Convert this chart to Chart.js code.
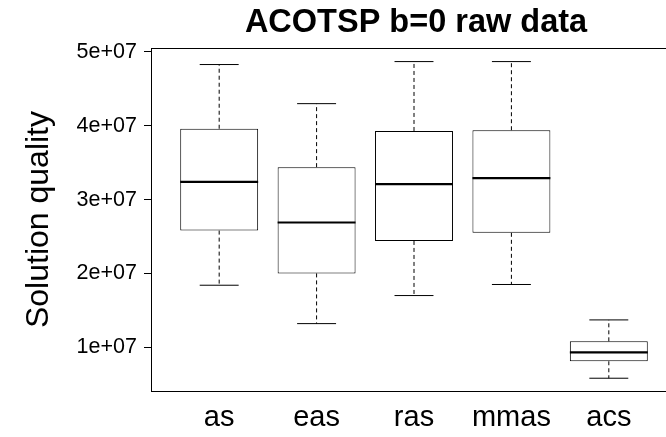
<!DOCTYPE html>
<html>
<head>
<meta charset="utf-8">
<style>
  html, body { margin: 0; padding: 0; background: #fff; overflow: hidden; }
  #wrap { width: 666px; height: 437px; overflow: hidden; position: relative; }
  #box { width: 700px; height: 437px; position: absolute; left: 0; top: 0; }
</style>
<script src="https://cdn.jsdelivr.net/npm/chart.js@4.4.1/dist/chart.umd.min.js"></script>
</head>
<body>
<div id="wrap"><div id="box"><canvas id="c" width="700" height="437"></canvas></div></div>
<script>
// ---- data ----
const categories = ['as', 'eas', 'ras', 'mmas', 'acs'];
const whiskerLow  = [1.84e7, 1.32e7, 1.70e7, 1.85e7, 0.58e7];
const q1          = [2.58e7, 2.00e7, 2.44e7, 2.55e7, 0.81e7];
const median      = [3.24e7, 2.69e7, 3.21e7, 3.29e7, 0.93e7];
const q3          = [3.96e7, 3.44e7, 3.93e7, 3.94e7, 1.08e7];
const whiskerHigh = [4.83e7, 4.30e7, 4.87e7, 4.87e7, 1.37e7];
const yTicks = [1e7, 2e7, 3e7, 4e7, 5e7];
const yTickLabels = ['1e+07', '2e+07', '3e+07', '4e+07', '5e+07'];
const titleText = 'ACOTSP b=0 raw data';
const yTitle = 'Solution quality';

// ---- build library data ----
const pos = categories.map((_, i) => i + 1);
const boxData = pos.map((x, i) => ({ x: x, y: [q1[i], q3[i]] }));
const stemData = [];
const capData = [];
const medData = [];
pos.forEach((x, i) => {
  stemData.push({ x: x, y: q3[i] }, { x: x, y: whiskerHigh[i] }, { x: x, y: null });
  stemData.push({ x: x, y: q1[i] }, { x: x, y: whiskerLow[i] }, { x: x, y: null });
  capData.push({ x: x - 0.2, y: whiskerHigh[i] }, { x: x + 0.2, y: whiskerHigh[i] }, { x: x, y: null });
  capData.push({ x: x - 0.2, y: whiskerLow[i] }, { x: x + 0.2, y: whiskerLow[i] }, { x: x, y: null });
  medData.push({ x: x - 0.4, y: median[i] }, { x: x + 0.4, y: median[i] }, { x: x, y: null });
});

const FONT = '"Liberation Sans", Arial, Helvetica, sans-serif';

const framePlugin = {
  id: 'frame',
  afterDraw(chart) {
    const a = chart.chartArea, ctx = chart.ctx;
    ctx.save();
    ctx.strokeStyle = '#000';
    ctx.lineWidth = 1;
    ctx.strokeRect(Math.round(a.left) + 0.5, Math.round(a.top) + 0.5,
                   Math.round(a.right - a.left), Math.round(a.bottom - a.top));
    ctx.fillStyle = '#000';
    ctx.font = 'bold 32.5px ' + FONT;
    ctx.textAlign = 'center';
    ctx.textBaseline = 'alphabetic';
    ctx.fillText(titleText, (a.left + a.right) / 2 + 2, 32);
    ctx.restore();
  }
};

new Chart(document.getElementById('c'), {
  type: 'bar',
  data: {
    datasets: [
      { type: 'line', data: medData, borderColor: '#000', borderWidth: 2.2, pointRadius: 0, spanGaps: false, tension: 0 },
      { type: 'line', data: capData, borderColor: '#000', borderWidth: 1, pointRadius: 0, spanGaps: false, tension: 0 },
      { type: 'line', data: stemData, borderColor: '#000', borderWidth: 1, borderDash: [4, 3], pointRadius: 0, spanGaps: false, tension: 0 },
      { type: 'bar', data: boxData, backgroundColor: '#fff', borderColor: '#000', borderWidth: 1,
        borderSkipped: false, barPercentage: 0.8, categoryPercentage: 1.0 }
    ]
  },
  options: {
    responsive: false,
    animation: false,
    layout: { padding: { top: 48, right: 23, bottom: 0, left: 0 } },
    plugins: { legend: { display: false }, tooltip: { enabled: false }, title: { display: false } },
    scales: {
      x: {
        type: 'linear', min: 0.3, max: 5.7, offset: false,
        afterBuildTicks: s => { s.ticks = pos.map(v => ({ value: v })); },
        afterFit: s => { s.height = 46; },
        grid: { display: false, drawTicks: false, offset: false },
        border: { display: false },
        ticks: { color: '#000', font: { family: FONT, size: 29 }, padding: 10,
                 autoSkip: false, maxRotation: 0, callback: v => categories[v - 1] }
      },
      y: {
        type: 'linear', min: 4.07e6, max: 5.054e7,
        afterBuildTicks: s => { s.ticks = yTicks.map(v => ({ value: v })); },
        afterFit: s => { s.width = 151; },
        grid: { drawOnChartArea: false, drawTicks: true, tickLength: 7, tickColor: '#000', tickWidth: 1 },
        border: { display: false },
        ticks: { color: '#000', font: { family: FONT, size: 21.5 }, padding: 7,
                 callback: v => yTickLabels[yTicks.indexOf(v)] },
        title: { display: true, text: yTitle, color: '#000', font: { family: FONT, size: 32 },
                 padding: { top: 20, bottom: 0 } }
      }
    }
  },
  plugins: [framePlugin]
});
</script>
</body>
</html>
